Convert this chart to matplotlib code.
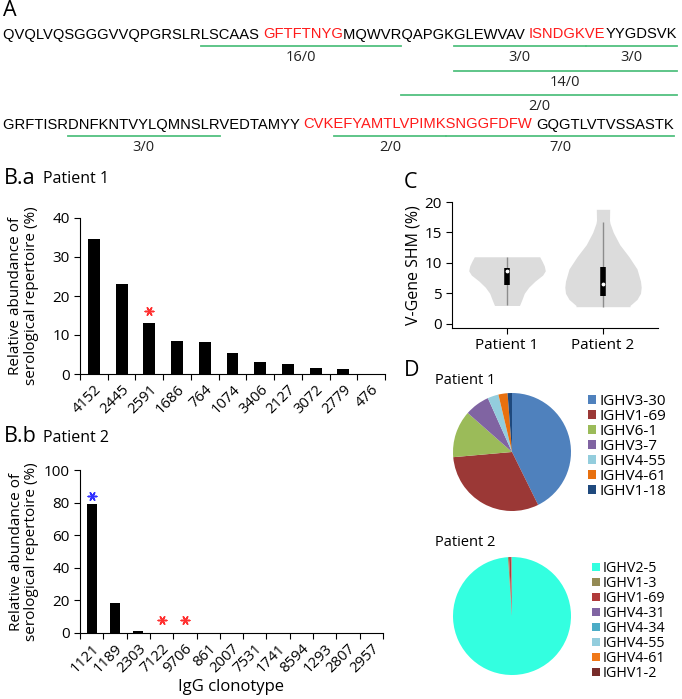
import numpy as np
import matplotlib
matplotlib.use("Agg")
import matplotlib.pyplot as plt
from matplotlib.font_manager import FontProperties
from matplotlib.lines import Line2D
from matplotlib.transforms import IdentityTransform

W, H = 682, 699
plt.rcParams['font.family'] = 'Open Sans'
plt.rcParams['axes.linewidth'] = 0.8
plt.rcParams['xtick.major.width'] = 0.8
plt.rcParams['ytick.major.width'] = 0.8
plt.rcParams['xtick.minor.width'] = 0.8

# ---------------- data ----------------
# panel A: sequence lines as (text, colour) segments
seq_line1 = [("QVQLVQSGGGVVQPGRSLRLSCAAS ", "black"), ("GFTFTNYG", "#ff1a1a"),
             ("MQWVRQAPGKGLEWVAV ", "black"), ("ISNDGKVE", "#ff1a1a"), ("YYGDSVK", "black")]
seq_line2 = [("GRFTISRDNFKNTVYLQMNSLRVEDTAMYY ", "black"),
             ("CVKEFYAMTLVPIMKSNGGFDFW", "#ff1a1a"), (" GQGTLVTVSSASTK", "black")]
# peptides: (line, peptide, row, count label)
peptides = [
    (0, "LSCAAS GFTFTNYGMQWVR", 0, "16/0"),
    (0, "GLEWVAV ISNDGK", 0, "3/0"),
    (0, "VEYYGDSVK", 0, "3/0"),
    (0, "GLEWVAV ISNDGKVEYYGDSVK", 1, "14/0"),
    (0, "QAPGKGLEWVAV ISNDGKVEYYGDSVK", 2, "2/0"),
    (1, "DNFKNTVYLQMNSLR", 0, "3/0"),
    (1, "EFYAMTLVPIMK", 0, "2/0"),
    (1, "SNGGFDFW GQGTLVTVSSASTK", 0, "7/0"),
]

# panel B.a
clono_p1 = ["4152", "2445", "2591", "1686", "764", "1074", "3406", "2127", "3072", "2779", "476"]
abund_p1 = [34.5, 23.0, 13.0, 8.5, 8.3, 5.4, 3.2, 2.6, 1.5, 1.3, 0.1]
stars_p1 = [("2591", 16.2, "#ff3030")]

# panel B.b
clono_p2 = ["1121", "1189", "2303", "7122", "9706", "861", "2007", "7531", "1741",
            "8594", "1293", "2807", "2957"]
abund_p2 = [78.9, 18.7, 1.0, 0.3, 0.3, 0.05, 0.05, 0.05, 0.05, 0.05, 0.05, 0.05, 0.05]
stars_p2 = [("1121", 84, "#3030ff"), ("7122", 8, "#ff3030"), ("9706", 8, "#ff3030")]

# panel C: violin outlines (SHM level, half width) and box stats
patients = ["Patient 1", "Patient 2"]
vio_y = [[3.0, 4, 5, 6, 7, 8, 8.7, 9.5, 10.3, 11.0],
         [2.8, 3, 4, 5, 6, 7, 9, 11, 13, 15, 16.5, 17, 18.8]]
vio_hw = [[12.5, 15, 17.3, 21.7, 28, 35.7, 38.3, 37.3, 35, 32.7],
          [27, 27, 34, 37.5, 38.2, 37.5, 34, 26, 16.7, 10.3, 7, 6.5, 6.7]]
whisk_lo = [3.0, 2.8]
whisk_hi = [11.0, 16.7]
q1 = [6.3, 4.5]
q3 = [9.1, 9.3]
median = [8.6, 6.6]

# panel D
genes_p1 = ["IGHV3-30", "IGHV1-69", "IGHV6-1", "IGHV3-7", "IGHV4-55", "IGHV4-61", "IGHV1-18"]
share_p1 = [42.7, 30.9, 12.9, 6.8, 3.0, 2.5, 1.2]
cols_p1 = ["#4f81bd", "#9b3836", "#9bbb59", "#8064a2", "#93cddd", "#e8700f", "#1f497d"]
genes_p2 = ["IGHV2-5", "IGHV1-3", "IGHV1-69", "IGHV4-31", "IGHV4-34", "IGHV4-55",
            "IGHV4-61", "IGHV1-2"]
share_p2 = [98.9, 0.3, 0.5, 0.06, 0.06, 0.06, 0.06, 0.06]
cols_p2 = ["#33ffe0", "#948a54", "#b03a3a", "#8064a2", "#4bacc6", "#93cddd",
           "#f07818", "#772c2a"]

# ---------------- figure ----------------
fig = plt.figure(figsize=(W / 100, H / 100), dpi=100)
ident = IdentityTransform()
renderer = fig.canvas.get_renderer()


def ptext(x, y, s, **kw):
    return fig.text(x, H - y, s, transform=ident, **kw)


def tw(s, prop):
    return renderer.get_text_width_height_descent(s, prop, ismath=False)[0]


# panel A
ptext(3, 10, "A", fontsize=15.5, va="center")
seq_prop = FontProperties(family="Liberation Sans", size=10)
full1 = "".join(s for s, c in seq_line1)
seq_prop.set_size(10 * 672 / tw(full1, seq_prop))
green = "#52c07f"
x0 = 3
for li, (line, base) in enumerate([(seq_line1, 38.5), (seq_line2, 128.5)]):
    full = "".join(s for s, c in line)
    i = 0
    for s, c in line:
        st = s.lstrip(" ")
        j = i + len(s) - len(st)
        x = x0 + tw(full[:j + 1], seq_prop) - tw(full[j], seq_prop)
        ptext(x, base, st, color=c, fontproperties=seq_prop, va="baseline")
        i += len(s)
    for pl, pep, row, lab in peptides:
        if pl != li:
            continue
        a = full.find(pep)
        b = a + len(pep)
        xa = x0 + tw(full[:a + 1], seq_prop) - tw(full[a], seq_prop)
        xb = x0 + tw(full[:b], seq_prop)
        yl = base + 7.5 + row * 24.5
        fig.add_artist(Line2D([xa, xb], [H - yl, H - yl], transform=ident,
                              color=green, lw=1.3))
        ptext((xa + xb) / 2, yl + 11.5, lab, fontsize=10.5, ha="center", va="center",
              color="#222222")


def bar_panel(ax, clonos, vals, stars, ymax, step):
    n = len(clonos)
    xs = np.arange(n)
    ax.bar(xs, vals, width=0.43, color="black")
    ax.set_xlim(-0.5, n - 0.5)
    ax.set_ylim(0, ymax)
    ax.set_yticks(np.arange(0, ymax + 1, step))
    ax.set_xticks(xs)
    ax.set_xticklabels(clonos, rotation=45, ha="right", rotation_mode="anchor",
                       fontsize=10.7)
    ax.set_xticks(np.arange(n + 1) - 0.5, minor=True)
    ax.tick_params(axis="x", which="major", length=0, pad=6)
    ax.tick_params(axis="x", which="minor", length=4)
    ax.tick_params(axis="y", length=4, labelsize=11)
    for sp in ["top", "right"]:
        ax.spines[sp].set_visible(False)
    for name, yv, col in stars:
        ax.scatter(clonos.index(name), yv, marker=(6, 2, 90), s=38, color=col,
                   linewidths=1.1, clip_on=False)
    ax.set_ylabel("Relative abundance of\nserological repertoire (%)", fontsize=11,
                  linespacing=1.05)
    ax.yaxis.set_label_coords(-0.135, 0.5)


ax1 = fig.add_axes([80 / W, 1 - 374 / H, 305 / W, 156 / H])
bar_panel(ax1, clono_p1, abund_p1, stars_p1, 40, 10)
ptext(4, 178, "B.a", fontsize=15.5, va="center")
ptext(43, 179, "Patient 1", fontsize=11.5, va="center")

ax2 = fig.add_axes([80 / W, 1 - 633 / H, 303 / W, 163 / H])
bar_panel(ax2, clono_p2, abund_p2, stars_p2, 100, 20)
ax2.set_xlabel("IgG clonotype", fontsize=12)
ax2.xaxis.set_label_coords(0.5, -0.28)
ptext(4, 437, "B.b", fontsize=15.5, va="center")
ptext(43, 438, "Patient 2", fontsize=11.5, va="center")

# panel C
axc = fig.add_axes([452 / W, 1 - 328 / H, 206 / W, 126 / H])
for k in range(2):
    pos = k + 1
    hw = np.array(vio_hw[k]) / 96
    axc.fill_betweenx(vio_y[k], pos - hw, pos + hw, color="#dcdcdc", lw=0)
    axc.vlines(pos, whisk_lo[k], whisk_hi[k], color="#8c8c8c", lw=1)
    axc.vlines(pos, q1[k], q3[k], color="black", lw=4)
    axc.scatter(pos, median[k], s=3, color="white", zorder=3)
axc.set_xlim(1 - 55 / 96, 1 - 55 / 96 + 206 / 96)
axc.set_ylim(-0.7, 20)
axc.set_yticks([0, 5, 10, 15, 20])
axc.set_xticks([1, 2])
axc.set_xticklabels(patients, fontsize=11)
axc.tick_params(length=4, labelsize=11)
for sp in ["top", "right"]:
    axc.spines[sp].set_visible(False)
axc.set_ylabel("V-Gene SHM (%)", fontsize=11.5)
axc.yaxis.set_label_coords(-0.15, 0.5)
ptext(404, 183, "C", fontsize=15.5, va="center")

# panel D
ptext(404, 370, "D", fontsize=15.5, va="center")
for cy, title, ty, genes, share, cols, lx, ly0, fs in [
        (452, "Patient 1", 380, genes_p1, share_p1, cols_p1, 588, 394, 11.0),
        (616, "Patient 2", 543, genes_p2, share_p2, cols_p2, 592, 561, 10.3)]:
    axp = fig.add_axes([(512 - 59) / W, 1 - (cy + 59) / H, 118 / W, 118 / H])
    wedges, _ = axp.pie(share, colors=cols, startangle=90, counterclock=False,
                        wedgeprops=dict(linewidth=0))
    axp.set_xlim(-1, 1)
    axp.set_ylim(-1, 1)
    axp.set_aspect("auto")
    ptext(435, ty, title, fontsize=10.5, va="center")
    fig.legend(wedges, genes, loc="upper left", bbox_to_anchor=(lx, H - ly0),
               bbox_transform=ident, frameon=False, fontsize=fs, borderpad=0,
               borderaxespad=0, handlelength=0.55, handleheight=0.55,
               handletextpad=0.2, labelspacing=0.0)

fig.savefig("out.png", dpi=100)
